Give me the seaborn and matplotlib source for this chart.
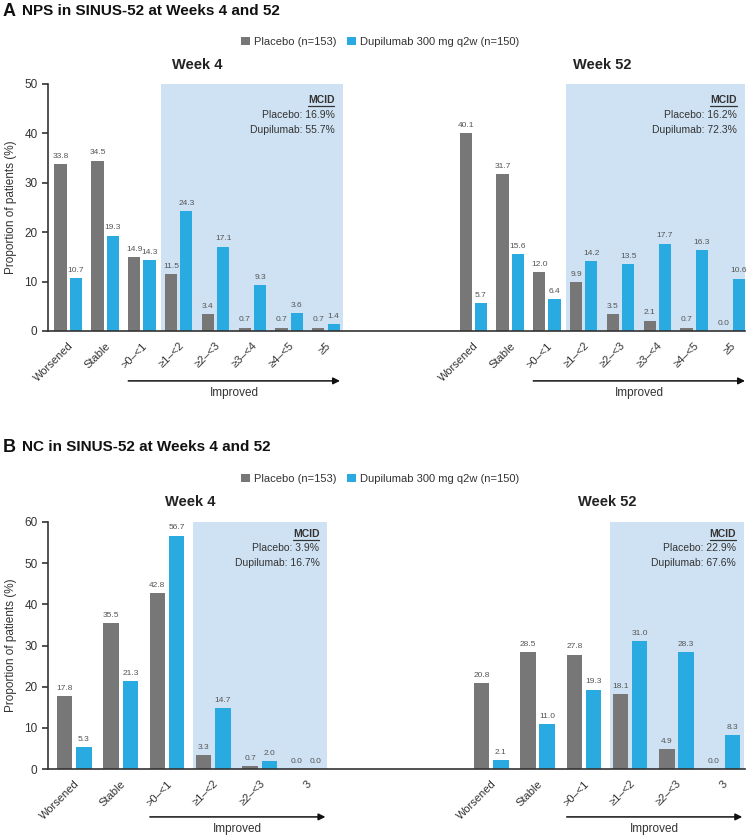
#!/usr/bin/env python3

import matplotlib.pyplot as plt
import matplotlib.lines as mlines
import pandas as pd
import seaborn as sns

PLACEBO = 'Placebo (n=153)'
DUPI = 'Dupilumab 300 mg q2w (n=150)'
COLORS = {PLACEBO: '#777777', DUPI: '#29abe2'}
SHADE = '#cfe2f3'
TXT = '#333333'

# NPS (panel A)
nps_cats = ['Worsened', 'Stable', '>0–<1', '≥1–<2', '≥2–<3', '≥3–<4', '≥4–<5', '≥5']
nps_w4_placebo = [33.8, 34.5, 14.9, 11.5, 3.4, 0.7, 0.7, 0.7]
nps_w4_dupi = [10.7, 19.3, 14.3, 24.3, 17.1, 9.3, 3.6, 1.4]
nps_w52_placebo = [40.1, 31.7, 12.0, 9.9, 3.5, 2.1, 0.7, 0.0]
nps_w52_dupi = [5.7, 15.6, 6.4, 14.2, 13.5, 17.7, 16.3, 10.6]
nps_mcid = [['Placebo: 16.9%', 'Dupilumab: 55.7%'], ['Placebo: 16.2%', 'Dupilumab: 72.3%']]

# NC (panel B)
nc_cats = ['Worsened', 'Stable', '>0–<1', '≥1–<2', '≥2–<3', '3']
nc_w4_placebo = [17.8, 35.5, 42.8, 3.3, 0.7, 0.0]
nc_w4_dupi = [5.3, 21.3, 56.7, 14.7, 2.0, 0.0]
nc_w52_placebo = [20.8, 28.5, 27.8, 18.1, 4.9, 0.0]
nc_w52_dupi = [2.1, 11.0, 19.3, 31.0, 28.3, 8.3]
nc_mcid = [['Placebo: 3.9%', 'Dupilumab: 16.7%'], ['Placebo: 22.9%', 'Dupilumab: 67.6%']]

week_titles = ['Week 4', 'Week 52']


def make_frame(cats, weeks, offset):
	rows = []
	for k, (plc, dup) in enumerate(weeks):
		for i, cat in enumerate(cats):
			pos = i + k * offset
			rows.append((pos, PLACEBO, plc[i]))
			rows.append((pos, DUPI, dup[i]))
	return pd.DataFrame(rows, columns=['pos', 'group', 'value'])


def draw_panel(fig, ax, cats, weeks, mcids, offset, ymax, xlim, shade_start, layout):
	df = make_frame(cats, weeks, offset)
	sns.barplot(data=df, x='pos', y='value', hue='group', hue_order=[PLACEBO, DUPI],
		palette=COLORS, native_scale=True, width=0.83, gap=0.2, saturation=1,
		errorbar=None, linewidth=0, ax=ax)
	handles, labels = ax.get_legend_handles_labels()
	if ax.get_legend() is not None:
		ax.get_legend().remove()

	for c in ax.containers:
		ax.bar_label(c, fmt='%.1f', padding=3, fontsize=6, color='#555555')

	ax.set_xlim(*xlim)
	ax.set_ylim(0, ymax)
	ax.set_yticks(range(0, ymax + 1, 10))
	n = len(cats)
	positions = [i + k * offset for k in range(2) for i in range(n)]
	ax.set_xticks(positions, cats * 2, rotation=45, ha='right', rotation_mode='anchor')
	ax.tick_params(axis='x', length=0, pad=7, labelsize=8, labelcolor=TXT)
	ax.tick_params(axis='y', length=4, width=1.2, labelsize=8.5, labelcolor=TXT, color=TXT)
	ax.set_xlabel('')
	ax.set_ylabel('Proportion of patients (%)', fontsize=8.5, color=TXT, labelpad=5)
	sns.despine(ax=ax)
	for s in ('left', 'bottom'):
		ax.spines[s].set_linewidth(1.2)
		ax.spines[s].set_color(TXT)

	trans = ax.get_xaxis_transform()
	mcid_texts = []
	for k in range(2):
		base = k * offset
		x0 = base + shade_start
		x1 = min(base + n - 1 + 0.45, xlim[1])
		ax.axvspan(x0, x1, color=SHADE, lw=0, zorder=0)

		ax.text(base + (n - 1) / 2, layout['week_y'], week_titles[k], transform=trans,
			ha='center', va='center', fontsize=10.5, fontweight='bold', color='#222222')

		a0 = base + 1.63
		a1 = base + n - 1 + layout['arrow_end']
		ax.annotate('', xy=(a1, layout['arrow_y']), xytext=(a0, layout['arrow_y']),
			xycoords=trans, textcoords=trans, annotation_clip=False,
			arrowprops=dict(arrowstyle='-|>', color='#111111', lw=1.1,
				mutation_scale=10, shrinkA=0, shrinkB=0))
		ax.text((a0 + a1) / 2, layout['improved_y'], 'Improved', transform=trans,
			ha='center', va='center', fontsize=8.5, color=TXT)

		tx = x1 - layout['mcid_dx']
		t = ax.text(tx, layout['mcid_y'][0], 'MCID', transform=trans, ha='right',
			va='center', fontsize=7.5, fontweight='bold', color=TXT)
		mcid_texts.append(t)
		for line, yy in zip(mcids[k], layout['mcid_y'][1:]):
			ax.text(tx, yy, line, transform=trans, ha='right', va='center',
				fontsize=7.5, color=TXT)
	return handles, labels, mcid_texts


def main():
	sns.set_theme(style='ticks')
	plt.rcParams['font.family'] = ['Liberation Sans', 'DejaVu Sans']

	W, H = 753, 840
	fig = plt.figure(figsize=(W / 100, H / 100), dpi=100)
	ax_a = fig.add_axes([48 / W, 1 - 331 / H, (745 - 48) / W, 247 / H])
	ax_b = fig.add_axes([48 / W, 1 - 769 / H, (745 - 48) / W, 247 / H])

	layout_a = dict(week_y=1.077, arrow_y=-0.202, improved_y=-0.252, arrow_end=0.38,
		mcid_dx=0.22, mcid_y=[0.935, 0.874, 0.814])
	layout_b = dict(week_y=1.081, arrow_y=-0.194, improved_y=-0.243, arrow_end=0.42,
		mcid_dx=0.16, mcid_y=[0.951, 0.895, 0.834])

	handles, labels, ta = draw_panel(fig, ax_a, nps_cats,
		[(nps_w4_placebo, nps_w4_dupi), (nps_w52_placebo, nps_w52_dupi)],
		nps_mcid, 11, 50, (-0.55, 18.38), 2.53, layout_a)
	_, _, tb = draw_panel(fig, ax_b, nc_cats,
		[(nc_w4_placebo, nc_w4_dupi), (nc_w52_placebo, nc_w52_dupi)],
		nc_mcid, 9, 60, (-0.57, 14.48), 2.56, layout_b)

	for y in (42, 479):
		fig.legend(handles, labels, loc='center', bbox_to_anchor=(380 / W, 1 - y / H),
			ncol=2, frameon=False, fontsize=8, handlelength=0.8, handleheight=0.8,
			handletextpad=0.4, columnspacing=0.9, labelcolor=TXT)

	for y, letter, title in ((11, 'A', 'NPS in SINUS-52 at Weeks 4 and 52'),
			(447, 'B', 'NC in SINUS-52 at Weeks 4 and 52')):
		fig.text(3 / W, 1 - y / H, letter, ha='left', va='center', fontsize=13,
			fontweight='bold', color='#111111')
		fig.text(22 / W, 1 - y / H, title, ha='left', va='center', fontsize=11,
			fontweight='bold', color='#111111')

	# underline the MCID headers
	fig.canvas.draw()
	for t in ta + tb:
		bb = t.get_window_extent()
		yline = (bb.y0 - 0.5) / H
		fig.add_artist(mlines.Line2D([bb.x0 / W, bb.x1 / W], [yline, yline],
			transform=fig.transFigure, color=TXT, lw=0.9))

	fig.savefig('out.png', dpi=100)


if __name__ == '__main__':
	main()
